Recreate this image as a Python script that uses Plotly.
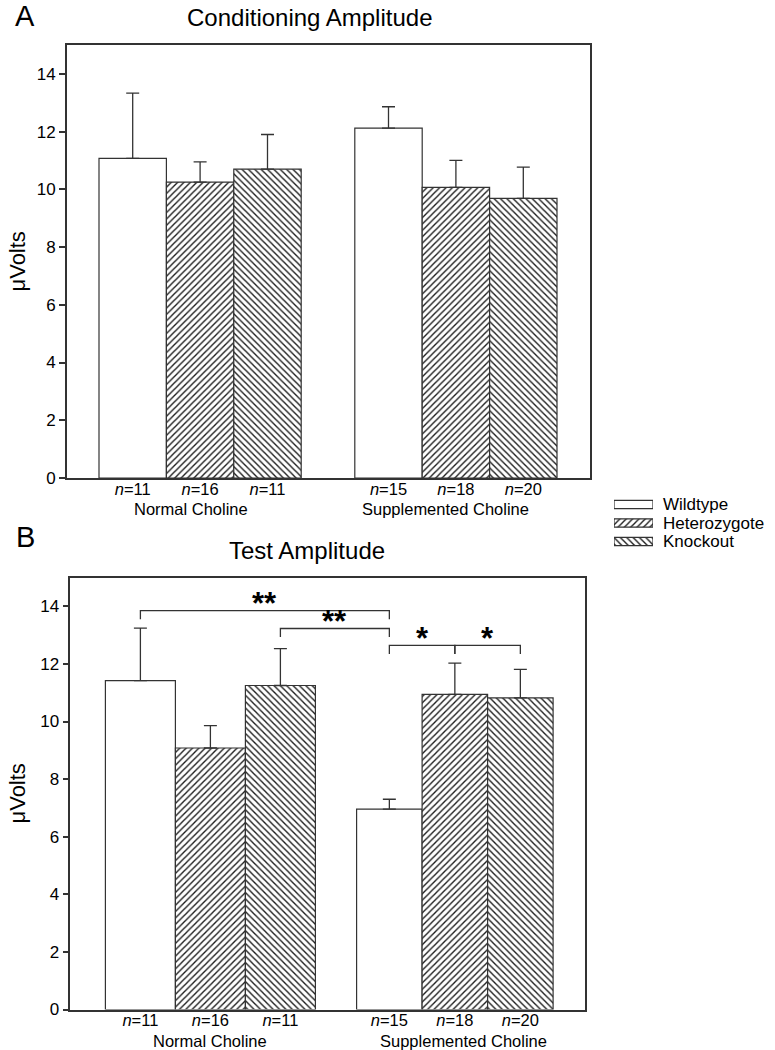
import plotly.graph_objects as go

# ---------------- data ----------------
genotypes = ["Wildtype", "Heterozygote", "Knockout"]
groups = ["Normal Choline", "Supplemented Choline"]
n_normal = [11, 16, 11]
n_supp = [15, 18, 20]

cond_mean_normal = [11.07, 10.25, 10.70]
cond_sem_normal = [2.26, 0.70, 1.20]
cond_mean_supp = [12.12, 10.07, 9.69]
cond_sem_supp = [0.74, 0.93, 1.08]

test_mean_normal = [11.42, 9.08, 11.25]
test_sem_normal = [1.82, 0.78, 1.28]
test_mean_supp = [6.96, 10.94, 10.82]
test_sem_supp = [0.34, 1.09, 0.99]

y_ticks = [0, 2, 4, 6, 8, 10, 12, 14]

# significance brackets for panel B: (bar index from, bar index to, level, label)
sig_from = [0, 2, 3, 4]
sig_to = [3, 3, 4, 5]
sig_level = [13.85, 13.23, 12.64, 12.64]
sig_label = ["**", "**", "*", "*"]

# ---------------- layout helpers ----------------
W, H = 775, 1050
FONT = "Liberation Sans, Arial, sans-serif"
LINE = "#333333"
patterns = ["", "/", "\\"]


def px(x):
    return x / W


def py(y):
    return 1 - y / H


# panel geometry (pixels): plot box, group starts (relative to axis) and bar widths
panels = [
    dict(name="A", title="Conditioning Amplitude", xa="x", ya="y",
         box=(66.8, 590.0, 45.0, 478.0), n_start=32.2, n_w=67.4, s_start=288.0, s_w=67.4,
         means=(cond_mean_normal, cond_mean_supp), sems=(cond_sem_normal, cond_sem_supp),
         letter_xy=(25, 16), title_xy=(310, 17), grp_x=(191, 446)),
    dict(name="B", title="Test Amplitude", xa="x2", ya="y2",
         box=(70.4, 585.3, 577.5, 1009.5), n_start=35.0, n_w=70.0, s_start=286.2, s_w=65.5,
         means=(test_mean_normal, test_mean_supp), sems=(test_sem_normal, test_sem_supp),
         letter_xy=(25, 537), title_xy=(307, 550), grp_x=(210, 463)),
]

PAT = dict(fgcolor="#1a1a1a", bgcolor="white", size=4.5, solidity=0.3)

fig = go.Figure()
annotations = []
shapes = []
layout_axes = {}

for i, p in enumerate(panels):
    x0, x1, y0, y1 = p["box"]
    centers_n = [p["n_start"] + (g + 0.5) * p["n_w"] for g in range(3)]
    centers_s = [p["s_start"] + (g + 0.5) * p["s_w"] for g in range(3)]
    for g in range(3):
        fig.add_trace(go.Bar(
            x=[centers_n[g], centers_s[g]],
            y=[p["means"][0][g], p["means"][1][g]],
            width=[p["n_w"], p["s_w"]],
            xaxis=p["xa"], yaxis=p["ya"],
            marker=dict(color="white",
                        line=dict(color=LINE, width=1.2),
                        pattern=dict(shape=patterns[g], **PAT)),
            error_y=dict(type="data", symmetric=False,
                         array=[p["sems"][0][g], p["sems"][1][g]], arrayminus=[0, 0],
                         color=LINE, thickness=1.3, width=6.5),
            showlegend=False, name=genotypes[g], hoverinfo="skip",
        ))
    sfx = "" if i == 0 else "2"
    layout_axes["xaxis" + sfx] = dict(
        domain=[px(x0), px(x1)], range=[0, x1 - x0], anchor=p["ya"], automargin=False,
        showline=True, linecolor=LINE, linewidth=1.5, mirror=True,
        showgrid=False, zeroline=False, ticks="", ticklabelstandoff=-5,
        tickvals=centers_n + centers_s,
        ticktext=[f"<i>n</i>={n}" for n in n_normal + n_supp],
        tickfont=dict(size=16.5, color="black", family=FONT),
    )
    layout_axes["yaxis" + sfx] = dict(
        domain=[py(y1), py(y0)], range=[0, 15], anchor=p["xa"], automargin=False,
        showline=True, linecolor=LINE, linewidth=1.5, mirror=True,
        showgrid=False, zeroline=False, ticks="outside", ticklen=6, tickwidth=1.5,
        tickcolor=LINE, tickvals=y_ticks,
        tickfont=dict(size=17, color="black", family=FONT),
    )
    # panel letter & title
    annotations.append(dict(text=p["name"], x=px(p["letter_xy"][0]), y=py(p["letter_xy"][1]),
                            xref="paper", yref="paper", showarrow=False,
                            xanchor="center", yanchor="middle",
                            font=dict(size=29, family=FONT, color="black")))
    annotations.append(dict(text=p["title"], x=px(p["title_xy"][0]), y=py(p["title_xy"][1]),
                            xref="paper", yref="paper", showarrow=False,
                            xanchor="center", yanchor="middle",
                            font=dict(size=24, family=FONT, color="black")))
    # y-axis title
    annotations.append(dict(text="\u03bcVolts", x=px(17), y=py((y0 + y1) / 2),
                            xref="paper", yref="paper", showarrow=False, textangle=-90,
                            xanchor="center", yanchor="middle",
                            font=dict(size=22, family=FONT, color="black")))
    # group labels
    for gx, gname in zip(p["grp_x"], groups):
        annotations.append(dict(text=gname, x=px(gx), y=py(y1 + 31),
                                xref="paper", yref="paper", showarrow=False,
                                xanchor="center", yanchor="middle",
                                font=dict(size=16.5, family=FONT, color="black")))

    if p["name"] == "B":
        all_centers = centers_n + centers_s
        drop = 0.3
        for a, b, lev, lab in zip(sig_from, sig_to, sig_level, sig_label):
            xa_, xb_ = all_centers[a], all_centers[b]
            shapes.append(dict(type="path", xref="x2", yref="y2",
                               path=f"M {xa_},{lev - drop} L {xa_},{lev} L {xb_},{lev} L {xb_},{lev - drop}",
                               line=dict(color=LINE, width=1.3)))
            annotations.append(dict(text=f"<b>{lab}</b>", x=(xa_ + xb_) / 2, y=lev,
                                    xref="x2", yref="y2", showarrow=False,
                                    xanchor="center", yanchor="middle", yshift=7,
                                    font=dict(size=31, family=FONT, color="black")))

# legend drawn as a small subplot of horizontal bars
fig.add_trace(go.Bar(
    x=[1, 1, 1], y=genotypes, orientation="h", width=0.45,
    xaxis="x3", yaxis="y3",
    marker=dict(color="white", line=dict(color=LINE, width=1.2),
                pattern=dict(shape=patterns, **PAT)),
    showlegend=False, hoverinfo="skip",
))
layout_axes["xaxis3"] = dict(domain=[px(614), px(653)], range=[0, 1], anchor="y3",
                             visible=False, fixedrange=True, automargin=False)
layout_axes["yaxis3"] = dict(domain=[py(553), py(493)], anchor="x3", automargin=False,
                             autorange="reversed", visible=False)
for gname in genotypes:
    annotations.append(dict(text=gname, x=1, y=gname, xref="x3", yref="y3", xshift=8,
                            showarrow=False, xanchor="left", yanchor="middle",
                            font=dict(size=17, family=FONT, color="black")))

fig.update_layout(
    template="none",
    width=W, height=H, margin=dict(l=0, r=0, t=0, b=0, autoexpand=False),
    paper_bgcolor="white", plot_bgcolor="white",
    barmode="overlay", showlegend=False,
    font=dict(family=FONT, color="black"),
    annotations=annotations, shapes=shapes,
    **layout_axes,
)

fig.write_html("out.html", config={"displayModeBar": False},
               post_script="document.body.style.margin='0';document.body.style.overflow='hidden';")
